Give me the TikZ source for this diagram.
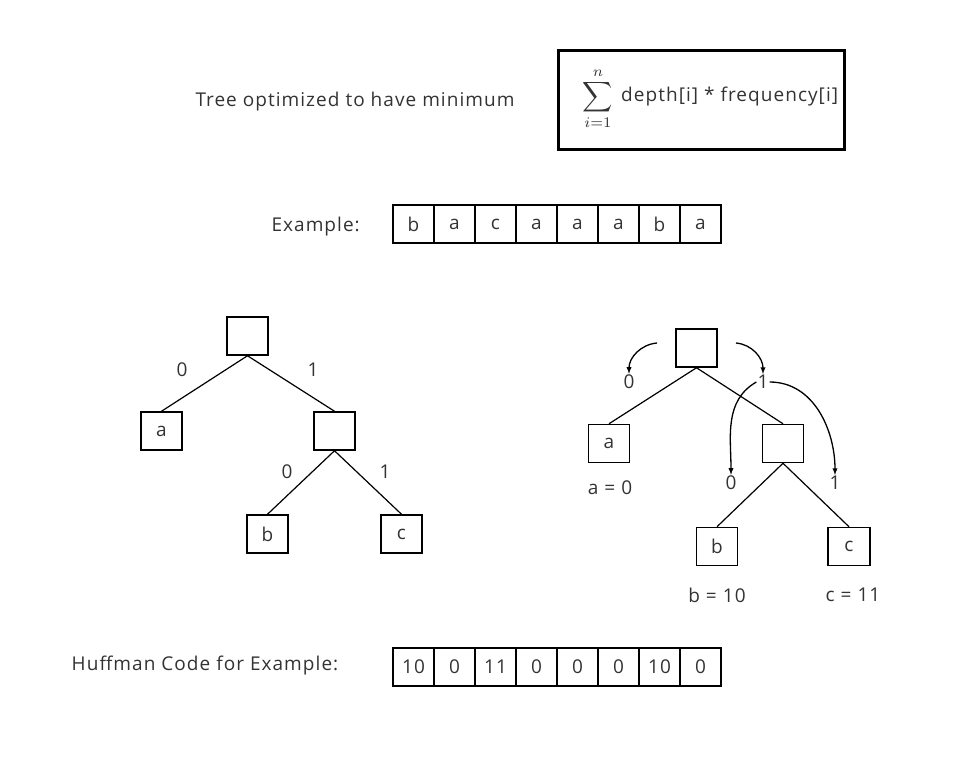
\documentclass[tikz,border=0pt]{standalone}
\usepackage{fontspec}
\usepackage{graphicx}
\setmainfont{Open Sans}[LetterSpace=5.5]
\usetikzlibrary{arrows}
\definecolor{txtgray}{RGB}{51,51,51}
\tikzset{
  cell/.style={draw,line width=1.5,minimum width=41,minimum height=38,inner sep=0,
    font=\fontsize{19}{21}\selectfont,text=txtgray},
  bigcell/.style={cell,minimum width=42},
  lbl/.style={font=\fontsize{19}{21}\selectfont,text=txtgray,inner sep=1},
  branch/.style={line width=1.2},
  curvearrow/.style={line width=1.3,-latex}
}
\begin{document}
\begin{tikzpicture}[x=1pt,y=-1pt]
\useasboundingbox(0,0)rectangle(975,774);
%title and formula
\node[lbl](title)at(355,102){Tree optimized to have minimum};
\node[draw,line width=3,minimum width=286,minimum height=99](fbox)at(701.5,100){};
\node[inner sep=0,text=txtgray](sum)at(598,99){\scalebox{2.1}{$\displaystyle\sum_{i=1}^{n}$}};
\node[lbl,anchor=west](ftext)at(620,97){depth[i] * frequency[i]};
%example string
\node[lbl,anchor=east](ex)at(361,227){Example:};
\node[cell](e1)at(413.5,224){b};
\node[cell](e2)at(454.5,224){a};
\node[cell](e3)at(495.5,224){c};
\node[cell](e4)at(536.5,224){a};
\node[cell](e5)at(577.5,224){a};
\node[cell](e6)at(618.5,224){a};
\node[cell](e7)at(659.5,224){b};
\node[cell](e8)at(700.5,224){a};
%left tree
\node[cell](lroot)at(247.5,336){};
\node[cell](la)at(161.5,431){a};
\node[cell](lin)at(334.5,431){};
\node[cell](lb)at(267.5,534){b};
\node[cell](lc)at(401.5,534){c};
\draw[branch](lroot.south)--(la.north);
\draw[branch](lroot.south)--(lin.north);
\draw[branch](lin.south)--(lb.north);
\draw[branch](lin.south)--(lc.north);
\node[lbl](ll0)at(182,370){0};
\node[lbl](ll1)at(313,370){1};
\node[lbl](ll2)at(287,472){0};
\node[lbl](ll3)at(385,472){1};
%right tree
\node[cell](rroot)at(696.5,348){};
\node[cell](ra)at(609,443.5){a};
\node[cell](rin)at(783,443.5){};
\node[cell](rb)at(717,546.5){b};
\node[bigcell](rc)at(849,546.5){c};
\draw[branch](rroot.south)--(ra.north);
\draw[branch](rroot.south)--(rin.north);
\draw[branch](rin.south)--(rb.north);
\draw[branch](rin.south)--(rc.north);
\node[lbl](rl0)at(629,382){0};
\node[lbl](rl1)at(763,382){1};
\node[lbl](rl2)at(731,483){0};
\node[lbl](rl3)at(835,483){1};
\node[lbl](acode)at(610,488){a = 0};
\node[lbl](bcode)at(717,595){b = 10};
\node[lbl](ccode)at(853,595){c = 11};
%curved arrows
\coordinate(s0)at(657,343);
\coordinate(s1)at(736,343);
\draw[curvearrow](s0)to[out=185,in=90](rl0.north);
\draw[curvearrow](s1)to[out=-5,in=90](rl1.north);
\draw[curvearrow](rl1.west)to[out=210,in=90](rl2.north);
\draw[curvearrow](rl1.east)to[out=0,in=90](rl3.north);
%huffman code
\node[lbl](huff)at(205,666){Huffman Code for Example:};
\node[cell](h1)at(413.5,667){10};
\node[cell](h2)at(454.5,667){0};
\node[cell](h3)at(495.5,667){11};
\node[cell](h4)at(536.5,667){0};
\node[cell](h5)at(577.5,667){0};
\node[cell](h6)at(618.5,667){0};
\node[cell](h7)at(659.5,667){10};
\node[cell](h8)at(700.5,667){0};
\end{tikzpicture}
\end{document}
